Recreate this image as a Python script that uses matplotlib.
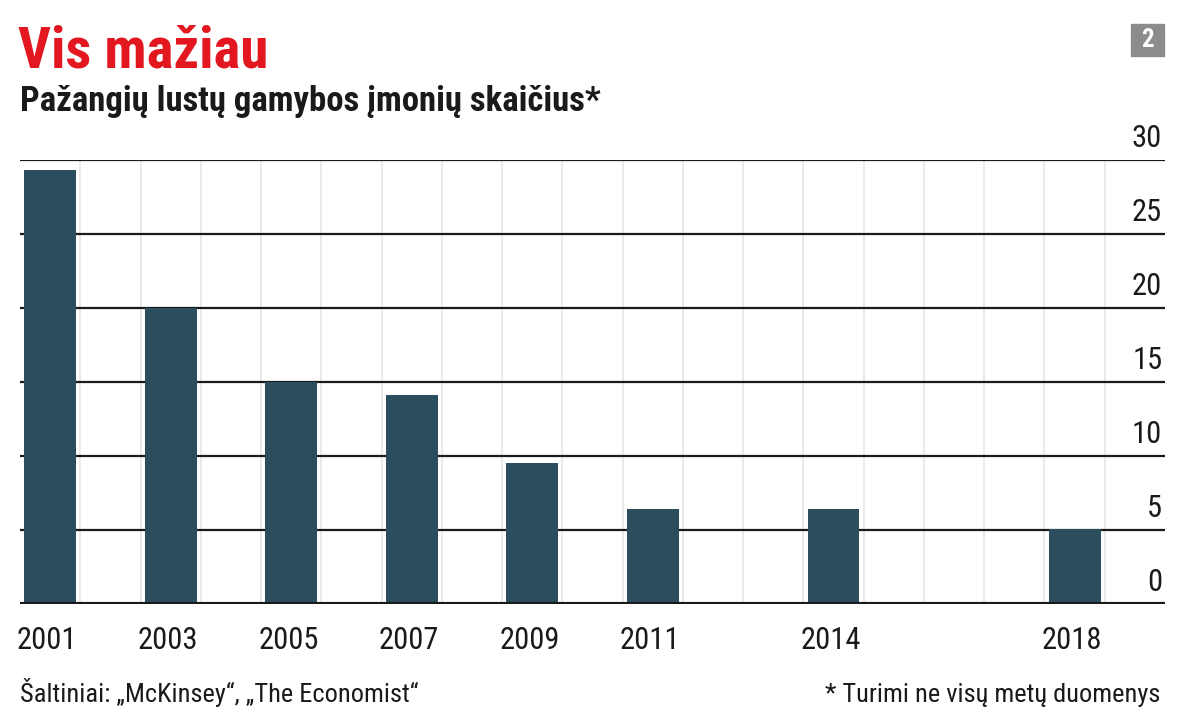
import matplotlib
matplotlib.use("Agg")
import matplotlib.pyplot as plt
from matplotlib import font_manager as fm
from matplotlib.transforms import blended_transform_factory, offset_copy
from matplotlib.patches import Rectangle

# ---- data ----
years = [2001, 2003, 2005, 2007, 2009, 2011, 2014, 2018]
values = [29.3, 20, 15, 14.1, 9.5, 6.4, 6.4, 5.1]
y_ticks = [0, 5, 10, 15, 20, 25, 30]
title = "Vis mažiau"
subtitle = "Pažangių lustų gamybos įmonių skaičius*"
source = "Šaltiniai: „McKinsey“, „The Economist“"
note = "* Turimi ne visų metų duomenys"
badge = "2"

available = {f.name for f in fm.fontManager.ttflist}
def pick(cands):
    for c in cands:
        if c in available:
            return c
    return "DejaVu Sans"
NARROW = pick(["Liberation Sans Narrow", "Roboto Condensed", "Open Sans Condensed", "Roboto", "Liberation Sans"])
FAM = [NARROW, "DejaVu Sans"]

BAR = "#2b4e5f"
RED = "#e3171f"
DARK = "#1a1a1a"

fig = plt.figure(figsize=(12, 7.23), dpi=100)
ax = fig.add_axes([20/1200, 1-604/723, (1165-20)/1200, (604-160)/723])
ax.set_xlim(2000.5, 2019.5)
ax.set_ylim(0, 30)

# vertical light gridlines between years
for x in range(2001, 2019):
    ax.axvline(x + 0.5, color="#e6e6e6", lw=1.2, zorder=0)
# horizontal gridlines
for v in y_ticks:
    ax.axhline(v, color=DARK, lw=3.0 if v == 0 else 1.6, zorder=3 if v == 0 else 1)

ax.bar(years, values, width=0.86, color=BAR, zorder=2)

for s in ax.spines.values():
    s.set_visible(False)
ax.set_xticks([])
ax.set_yticks([])

# y labels on the right above lines
tr = offset_copy(blended_transform_factory(ax.transAxes, ax.transData), fig=fig, x=-2, y=5, units="points")
for v in y_ticks:
    ax.text(1.0, v, str(v), transform=tr, ha="right", va="bottom",
            fontsize=22, family=FAM, color=DARK)

# x labels
trx = offset_copy(blended_transform_factory(ax.transData, ax.transAxes), fig=fig, x=-2, y=-16, units="points")
for yr in years:
    ax.text(yr, 0, str(yr), transform=trx, ha="center", va="top",
            fontsize=22, family=FAM, color=DARK)

# titles
fig.text(18/1200, 1-67/723, title, fontsize=41, fontweight="bold", color=RED,
         family=FAM, ha="left", va="baseline")
fig.text(20/1200, 1-111/723, subtitle, fontsize=25, fontweight="bold", color=DARK,
         family=FAM, ha="left", va="baseline")

# footer
fig.text(20/1200, 1-702/723, source, fontsize=19, color=DARK, family=FAM,
         ha="left", va="baseline")
fig.text(1160/1200, 1-702/723, note, fontsize=19, color=DARK, family=FAM,
         ha="right", va="baseline")

# badge
fig.patches.append(Rectangle((1131/1200, 1-56/723), 33/1200, 32/723,
                             transform=fig.transFigure, color="#8c8c8c", zorder=5))
fig.text(1147.5/1200, 1-40/723, badge, fontsize=18, fontweight="bold", color="white",
         family=FAM, ha="center", va="center", zorder=6)

fig.savefig("out.png", dpi=100, facecolor="white")
